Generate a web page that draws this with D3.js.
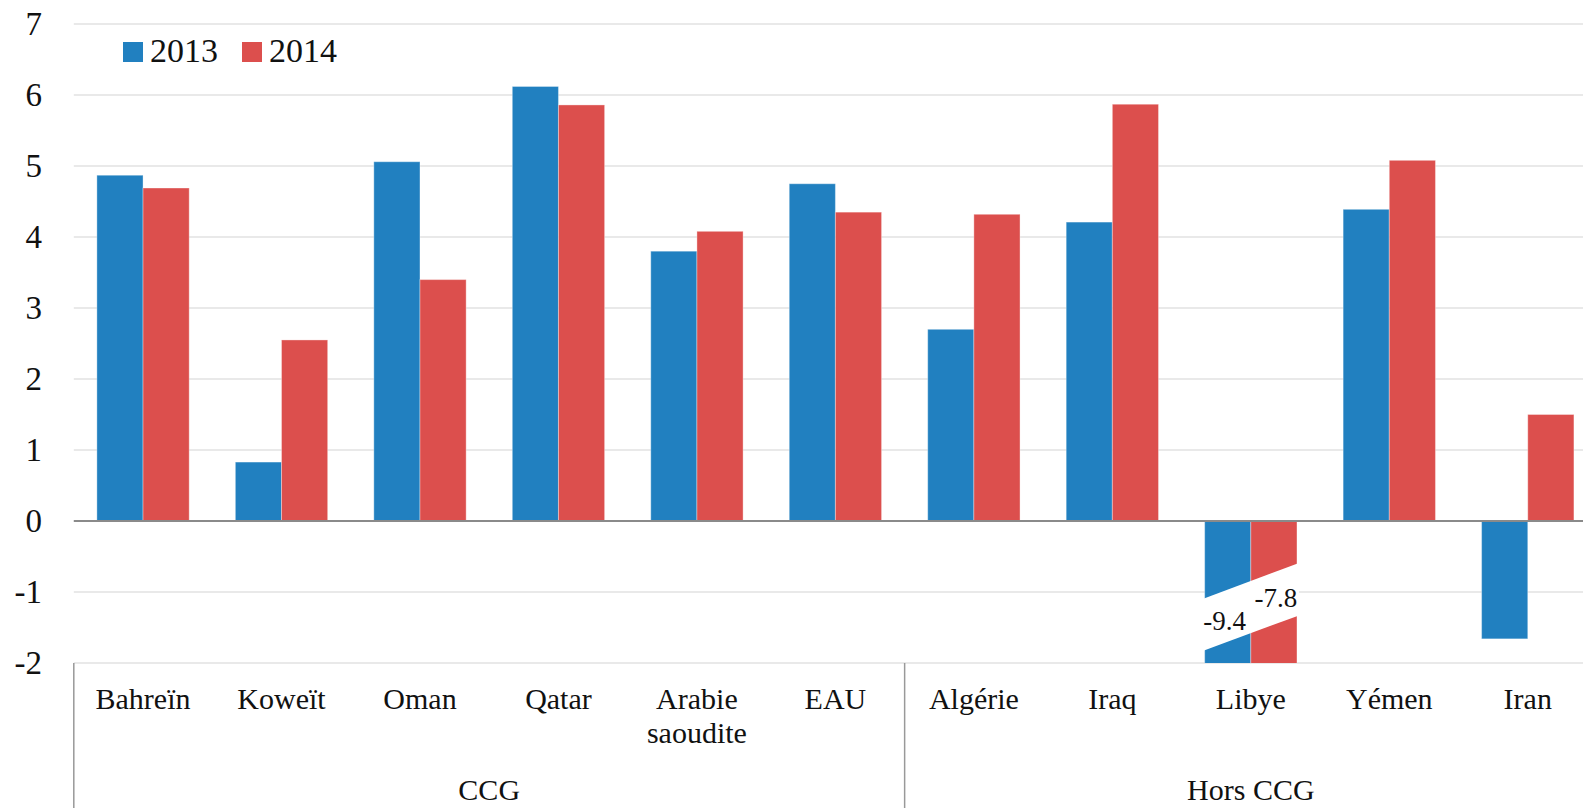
<!DOCTYPE html>
<html>
<head>
<meta charset="utf-8">
<script src="https://cdn.jsdelivr.net/npm/d3@7"></script>
<style>
  html, body { margin: 0; padding: 0; background: #fff; overflow: hidden; }
  svg { display: block; }
  svg text { font-family: "Liberation Serif", "Times New Roman", Times, Tinos, "DejaVu Serif", "Noto Serif", serif; }
</style>
</head>
<body>
<svg id="chart" width="1583" height="808"></svg>
<script>
// ---- data ----
const categories = ["Bahreïn", "Koweït", "Oman", "Qatar", "Arabie saoudite", "EAU",
                    "Algérie", "Iraq", "Libye", "Yémen", "Iran"];
const groupNames = ["CCG", "Hors CCG"];
const groupSizes = [6, 5];
const seriesNames = ["2013", "2014"];
const values2013 = [4.87, 0.83, 5.06, 6.12, 3.80, 4.75, 2.70, 4.21, -9.4, 4.39, -1.66];
const values2014 = [4.69, 2.55, 3.40, 5.86, 4.08, 4.35, 4.32, 5.87, -7.8, 5.08, 1.50];
const yTicks = [-2, -1, 0, 1, 2, 3, 4, 5, 6, 7];
const colors = ["#2180c0", "#dc4f4d"];

// ---- layout ----
const W = 1583, H = 808;
const plotLeft = 73.8, plotRight = 1597, plotTop = 24, plotBottom = 663;
const FONT = '"Liberation Serif", "Times New Roman", Times, Tinos, "DejaVu Serif", "Noto Serif", serif';
const svg = d3.select("#chart").attr("font-family", FONT);

const x = d3.scaleBand().domain(categories).range([plotLeft, plotRight]).padding(0);
const xs = d3.scaleBand().domain(seriesNames).range([0, x.bandwidth()])
  .paddingInner(0).paddingOuter(0.5);
const y = d3.scaleLinear().domain([-2, 7]).range([plotBottom, plotTop]);
const color = d3.scaleOrdinal().domain(seriesNames).range(colors);

// gridlines
svg.append("g").selectAll("line").data(yTicks).join("line")
  .attr("x1", plotLeft).attr("x2", W)
  .attr("y1", d => y(d)).attr("y2", d => y(d))
  .attr("stroke", "#e2e2e2").attr("stroke-width", 1.3);

// y tick labels
svg.append("g").selectAll("text").data(yTicks).join("text")
  .attr("x", 42).attr("y", d => y(d))
  .attr("text-anchor", "end").attr("dominant-baseline", "central")
  .attr("font-size", 33).attr("fill", "#111")
  .text(d => d);

// bars
svg.append("clipPath").attr("id", "plotclip")
  .append("rect").attr("x", 0).attr("y", plotTop - 10)
  .attr("width", W).attr("height", plotBottom - plotTop + 10);

const rows = categories.map((c, i) => ({ cat: c, vals: [values2013[i], values2014[i]] }));
const barG = svg.append("g").attr("clip-path", "url(#plotclip)");
const catG = barG.selectAll("g").data(rows).join("g")
  .attr("transform", d => `translate(${x(d.cat)},0)`);
catG.selectAll("rect").data(d => d.vals.map((v, k) => ({ s: seriesNames[k], v })))
  .join("rect")
  .attr("x", d => xs(d.s))
  .attr("width", xs.bandwidth())
  .attr("y", d => y(Math.max(0, d.v)))
  .attr("height", d => Math.abs(y(d.v) - y(0)))
  .attr("fill", d => color(d.s))
  .attr("stroke", "#ffffff").attr("stroke-opacity", 0.35).attr("stroke-width", 1);

// broken bars (values beyond axis minimum)
rows.forEach(r => {
  if (r.vals.some(v => v < y.domain()[0])) {
    const xL = x(r.cat) + xs(seriesNames[0]) - 2;
    const xR = x(r.cat) + xs(seriesNames[1]) + xs.bandwidth() + 2;
    const pts = [[xL, y(-1.10)], [xR, y(-0.59)], [xR, y(-1.33)], [xL, y(-1.83)]];
    svg.append("polygon").attr("points", pts.map(p => p.join(",")).join(" "))
      .attr("fill", "#fff");
    const labY = [-1.535, -1.21];
    const labDx = [-3, 2];
    r.vals.forEach((v, k) => {
      svg.append("text")
        .attr("x", x(r.cat) + xs(seriesNames[k]) + xs.bandwidth() / 2 + labDx[k])
        .attr("y", y(labY[k]))
        .attr("text-anchor", "middle").attr("font-size", 27).attr("fill", "#111")
        .text(v.toFixed(1));
    });
  }
});

// zero line
svg.append("line").attr("x1", plotLeft).attr("x2", W)
  .attr("y1", y(0)).attr("y2", y(0))
  .attr("stroke", "#8a8a8a").attr("stroke-width", 2);

// category labels
const catLabels = svg.append("g");
categories.forEach(c => {
  const lines = c.includes(" ") ? c.split(" ") : [c];
  const t = catLabels.append("text")
    .attr("x", x(c) + x.bandwidth() / 2).attr("y", 709)
    .attr("text-anchor", "middle").attr("font-size", 30).attr("fill", "#111");
  lines.forEach((l, i) => {
    t.append("tspan").attr("x", x(c) + x.bandwidth() / 2)
      .attr("dy", i === 0 ? 0 : 34).text(l);
  });
});

// group separators & labels
let start = 0;
const sepX = [plotLeft];
groupNames.forEach((g, gi) => {
  const first = categories[start];
  const last = categories[start + groupSizes[gi] - 1];
  const gx0 = x(first), gx1 = x(last) + x.bandwidth();
  svg.append("text").attr("x", (gx0 + gx1) / 2).attr("y", 800)
    .attr("text-anchor", "middle").attr("font-size", 30).attr("fill", "#111")
    .text(g);
  sepX.push(gx1);
  start += groupSizes[gi];
});
svg.append("g").selectAll("line").data(sepX).join("line")
  .attr("x1", d => d).attr("x2", d => d)
  .attr("y1", plotBottom).attr("y2", H)
  .attr("stroke", "#999").attr("stroke-width", 1.5);

// legend
const leg = svg.append("g");
const legX = [123, 242];
seriesNames.forEach((s, i) => {
  leg.append("rect").attr("x", legX[i]).attr("y", 42).attr("width", 20).attr("height", 20)
    .attr("fill", color(s));
  leg.append("text").attr("x", legX[i] + 27).attr("y", 62)
    .attr("font-size", 34).attr("fill", "#111").text(s);
});
</script>
</body>
</html>
